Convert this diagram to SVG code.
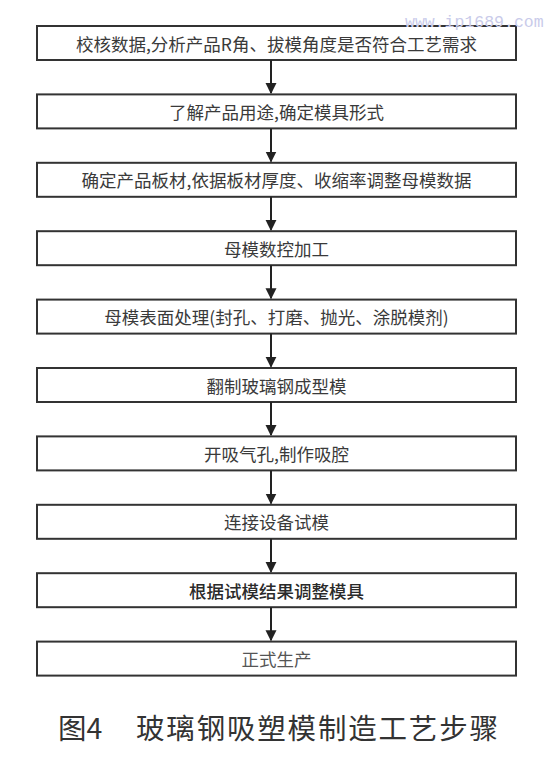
<svg xmlns="http://www.w3.org/2000/svg" width="554" height="758" viewBox="0 0 554 758">
<defs>
<style>
.box{fill:#fff;stroke:#333;stroke-width:2}
.t{font-family:"Noto Sans CJK SC","Noto Sans",sans-serif;font-size:17.5px;fill:#3a3a3a;text-anchor:middle;dominant-baseline:central}
.c{stroke:#222;stroke-width:2;fill:none;marker-end:url(#ah)}
.cap{font-family:"Noto Sans CJK SC","Noto Sans",sans-serif;font-size:28.5px;fill:#333}
.wm{font-family:"Liberation Mono",monospace;font-size:16.5px;fill:#c9cbea}
</style>
<marker id="ah" viewBox="0 0 10 10" refX="9" refY="5" markerWidth="5.5" markerHeight="6" markerUnits="strokeWidth" orient="auto">
<path d="M0,0 L10,5 L0,10 z" fill="#222"/>
</marker>
</defs>
<rect width="554" height="758" fill="#fff"/>
<g id="n1"><rect class="box" x="37" y="26" width="479" height="34"/><text class="t" x="276.5" y="43">校核数据,分析产品R角、拔模角度是否符合工艺需求</text></g>
<g id="n2"><rect class="box" x="37" y="94.4" width="479" height="34"/><text class="t" x="276.5" y="111.4">了解产品用途,确定模具形式</text></g>
<g id="n3"><rect class="box" x="37" y="162.8" width="479" height="34"/><text class="t" x="276.5" y="179.8">确定产品板材,依据板材厚度、收缩率调整母模数据</text></g>
<g id="n4"><rect class="box" x="37" y="231.2" width="479" height="34"/><text class="t" x="276.5" y="248.2">母模数控加工</text></g>
<g id="n5"><rect class="box" x="37" y="299.6" width="479" height="34"/><text class="t" x="276.5" y="316.6">母模表面处理(封孔、打磨、抛光、涂脱模剂)</text></g>
<g id="n6"><rect class="box" x="37" y="368" width="479" height="34"/><text class="t" x="276.5" y="385">翻制玻璃钢成型模</text></g>
<g id="n7"><rect class="box" x="37" y="436.4" width="479" height="34"/><text class="t" x="276.5" y="453.4">开吸气孔,制作吸腔</text></g>
<g id="n8"><rect class="box" x="37" y="504.8" width="479" height="34"/><text class="t" x="276.5" y="521.8">连接设备试模</text></g>
<g id="n9"><rect class="box" x="37" y="573.2" width="479" height="34"/><text class="t" x="276.5" y="590.2" style="fill:#2a2a2a;font-weight:500">根据试模结果调整模具</text></g>
<g id="n10"><rect class="box" x="37" y="641.6" width="479" height="34"/><text class="t" x="276.5" y="658.6" style="fill:#555">正式生产</text></g>
<g id="connectors">
<line class="c" x1="271" y1="60" x2="271" y2="93"/>
<line class="c" x1="271" y1="128.4" x2="271" y2="161.4"/>
<line class="c" x1="271" y1="196.8" x2="271" y2="229.8"/>
<line class="c" x1="271" y1="265.2" x2="271" y2="298.2"/>
<line class="c" x1="271" y1="333.6" x2="271" y2="366.6"/>
<line class="c" x1="271" y1="402" x2="271" y2="435"/>
<line class="c" x1="271" y1="470.4" x2="271" y2="503.4"/>
<line class="c" x1="271" y1="538.8" x2="271" y2="571.8"/>
<line class="c" x1="271" y1="607.2" x2="271" y2="640.2"/>
</g>
<text class="cap" x="58" y="739">图4</text>
<text class="cap" x="136" y="739" textLength="362" lengthAdjust="spacing">玻璃钢吸塑模制造工艺步骤</text>
<text class="wm" x="405" y="27">www.ip1689.com</text>
</svg>
